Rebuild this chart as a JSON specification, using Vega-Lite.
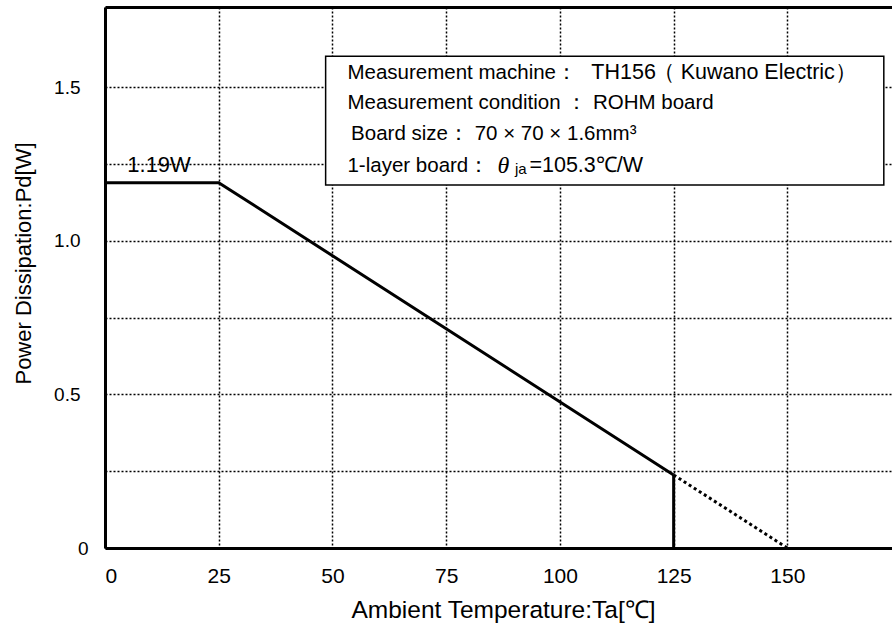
{
  "$schema": "https://vega.github.io/schema/vega-lite/v6.json",
  "autosize": "none",
  "width": 787,
  "height": 541,
  "padding": {"left": 105, "top": 7, "right": 0, "bottom": 80},
  "background": "white",
  "config": {
    "view": {"stroke": null},
    "font": "Liberation Sans",
    "axis": {
      "labelFont": "Liberation Sans",
      "titleFont": "Liberation Sans",
      "labelColor": "black",
      "titleColor": "black",
      "titleFontWeight": "normal",
      "domainColor": "black",
      "domainWidth": 3,
      "gridColor": "black",
      "gridDash": [2, 2],
      "gridWidth": 1.5,
      "gridOpacity": 1,
      "ticks": false
    }
  },
  "datasets": {
    "curve": [
      {"Ta": 0, "Pd": 1.19},
      {"Ta": 25, "Pd": 1.19},
      {"Ta": 125, "Pd": 0.238}
    ],
    "vert": [
      {"Ta": 125, "Pd": 0.238},
      {"Ta": 125, "Pd": 0}
    ],
    "dotted": [
      {"Ta": 125, "Pd": 0.238},
      {"Ta": 150, "Pd": 0}
    ],
    "box": [
      {"x1": 48.5, "x2": 171.2, "y1": 1.182, "y2": 1.602}
    ],
    "notes": [
      {"Ta": 53.3, "Pd": 1.546, "label": "Measurement machine："},
      {"Ta": 53.3, "Pd": 1.448, "label": "Measurement condition ： ROHM board"},
      {"Ta": 54.1, "Pd": 1.348, "label": "Board size： 70 × 70 × 1.6mm³"},
      {"Ta": 53.3, "Pd": 1.2446, "label": "1-layer board："}
    ],
    "big": [
      {"Ta": 106.9, "Pd": 1.546, "label": "TH156"},
      {"Ta": 120.4, "Pd": 1.546, "label": "（ Kuwano Electric）"},
      {"Ta": 93.3, "Pd": 1.2446, "label": "=105.3℃/W"}
    ],
    "theta": [
      {"Ta": 86.3, "Pd": 1.2446, "label": "θ"}
    ],
    "sub": [
      {"Ta": 90.1, "Pd": 1.234, "label": "ja"}
    ],
    "peak": [
      {"Ta": 4.9, "Pd": 1.248, "label": "1.19W"}
    ]
  },
  "layer": [
    {
      "data": {"name": "curve"},
      "mark": {"type": "line", "color": "black", "strokeWidth": 3},
      "encoding": {
        "x": {
          "field": "Ta", "type": "quantitative",
          "scale": {"domain": [0, 173], "nice": false, "zero": false},
          "axis": {
            "values": [0, 25, 50, 75, 100, 125, 150],
            "labelFontSize": 21,
            "labelPadding": 17,
            "title": "Ambient Temperature:Ta[℃]",
            "titleFontSize": 24.5,
            "titlePadding": 12,
            "titleX": 398
          }
        },
        "y": {
          "field": "Pd", "type": "quantitative",
          "scale": {"domain": [0, 1.762], "nice": false, "zero": false},
          "axis": {
            "values": [0, 0.25, 0.5, 0.75, 1, 1.25, 1.5],
            "labelExpr": "datum.value == 0 ? '0' : (datum.value * 100) % 50 == 0 ? format(datum.value, '.1f') : ''",
            "labelFontSize": 19,
            "labelPadding": {"condition": {"test": "datum.value == 0", "value": 17}, "value": 25},
            "title": "Power Dissipation:Pd[W]",
            "titleFontSize": 22,
            "titlePadding": 18,
            "titleY": 256
          }
        }
      }
    },
    {
      "data": {"name": "vert"},
      "mark": {"type": "line", "color": "black", "strokeWidth": 3},
      "encoding": {
        "x": {"field": "Ta", "type": "quantitative", "axis": null},
        "y": {"field": "Pd", "type": "quantitative"}
      }
    },
    {
      "data": {"name": "dotted"},
      "mark": {"type": "line", "color": "black", "strokeWidth": 3, "strokeDash": [3, 3]},
      "encoding": {
        "x": {"field": "Ta", "type": "quantitative", "axis": null},
        "y": {"field": "Pd", "type": "quantitative"}
      }
    },
    {
      "data": {"name": "peak"},
      "mark": {"type": "text", "align": "left", "baseline": "middle", "fontSize": 22, "font": "Liberation Sans", "color": "black"},
      "encoding": {
        "x": {"field": "Ta", "type": "quantitative", "axis": null},
        "y": {"field": "Pd", "type": "quantitative"},
        "text": {"field": "label"}
      }
    },
    {
      "data": {"name": "box"},
      "mark": {"type": "rect", "fill": "white", "stroke": "black", "strokeWidth": 1.5},
      "encoding": {
        "x": {
          "field": "x1", "type": "quantitative",
          "axis": {"orient": "top", "labels": false, "values": [], "grid": false, "title": null, "domainWidth": 3}
        },
        "x2": {"field": "x2"},
        "y": {"field": "y1", "type": "quantitative"},
        "y2": {"field": "y2"}
      }
    },
    {
      "data": {"name": "notes"},
      "mark": {"type": "text", "align": "left", "baseline": "middle", "fontSize": 20.5, "font": "Liberation Sans", "color": "black"},
      "encoding": {
        "x": {"field": "Ta", "type": "quantitative", "axis": null},
        "y": {"field": "Pd", "type": "quantitative"},
        "text": {"field": "label"}
      }
    },
    {
      "data": {"name": "big"},
      "mark": {"type": "text", "align": "left", "baseline": "middle", "fontSize": 21.5, "font": "Liberation Sans", "color": "black"},
      "encoding": {
        "x": {"field": "Ta", "type": "quantitative", "axis": null},
        "y": {"field": "Pd", "type": "quantitative"},
        "text": {"field": "label"}
      }
    },
    {
      "data": {"name": "theta"},
      "mark": {"type": "text", "align": "left", "baseline": "middle", "fontSize": 24, "fontStyle": "italic", "font": "Liberation Serif", "color": "black"},
      "encoding": {
        "x": {"field": "Ta", "type": "quantitative", "axis": null},
        "y": {"field": "Pd", "type": "quantitative"},
        "text": {"field": "label"}
      }
    },
    {
      "data": {"name": "sub"},
      "mark": {"type": "text", "align": "left", "baseline": "middle", "fontSize": 15, "font": "Liberation Sans", "color": "black"},
      "encoding": {
        "x": {"field": "Ta", "type": "quantitative", "axis": null},
        "y": {"field": "Pd", "type": "quantitative"},
        "text": {"field": "label"}
      }
    }
  ],
  "resolve": {"axis": {"x": "independent"}}
}
